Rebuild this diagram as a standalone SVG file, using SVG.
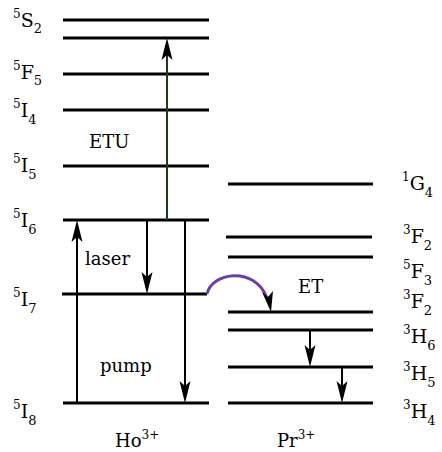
<svg xmlns="http://www.w3.org/2000/svg" width="442" height="452" viewBox="0 0 442 452">
<style>
.lvl{stroke:#000;stroke-width:3;fill:none}
.arr{stroke:#000;stroke-width:2;fill:none;marker-end:url(#ah)}
.t{font-family:"DejaVu Serif","Liberation Serif",serif;font-size:18px;fill:#000}
.lab{font-family:"DejaVu Serif","Liberation Serif",serif;font-size:19px;fill:#000}
.sm{font-size:12px}
.sb{font-size:13px}
</style>
<defs>
<marker id="ah" markerUnits="userSpaceOnUse" markerWidth="24" markerHeight="12" refX="18" refY="5.5" orient="auto" overflow="visible">
<path d="M0,0 L22,5.5 L0,11 L5,5.5 Z" fill="#000"/>
</marker>
</defs>
<rect width="442" height="452" fill="#fff"/>
<g id="ho-levels">
<line class="lvl" x1="63" y1="20" x2="209" y2="20"/>
<line class="lvl" x1="63" y1="38" x2="209" y2="38"/>
<line class="lvl" x1="63" y1="74" x2="209" y2="74"/>
<line class="lvl" x1="63" y1="110" x2="209" y2="110"/>
<line class="lvl" x1="63" y1="166" x2="209" y2="166"/>
<line class="lvl" x1="63" y1="220" x2="209" y2="220"/>
<line class="lvl" x1="62" y1="294" x2="207" y2="294"/>
<line class="lvl" x1="63" y1="403" x2="209" y2="403"/>
</g>
<g id="pr-levels">
<line class="lvl" x1="228" y1="184" x2="373" y2="184"/>
<line class="lvl" x1="226" y1="237" x2="372" y2="237"/>
<line class="lvl" x1="228" y1="257" x2="373" y2="257"/>
<line class="lvl" x1="228" y1="312" x2="373" y2="312"/>
<line class="lvl" x1="228" y1="330" x2="373" y2="330"/>
<line class="lvl" x1="228" y1="367" x2="373" y2="367"/>
<line class="lvl" x1="228" y1="403" x2="373" y2="403"/>
</g>
<g id="ho-labels">
<text class="lab" x="13" y="27"><tspan class="sm" dy="-9">5</tspan><tspan dy="9">S</tspan><tspan class="sb" dy="6">2</tspan></text>
<text class="lab" x="13" y="79"><tspan class="sm" dy="-9">5</tspan><tspan dy="9">F</tspan><tspan class="sb" dy="6">5</tspan></text>
<text class="lab" x="13" y="117"><tspan class="sm" dy="-9">5</tspan><tspan dy="9">I</tspan><tspan class="sb" dy="7">4</tspan></text>
<text class="lab" x="13" y="172"><tspan class="sm" dy="-9">5</tspan><tspan dy="9">I</tspan><tspan class="sb" dy="7">5</tspan></text>
<text class="lab" x="13" y="227"><tspan class="sm" dy="-9">5</tspan><tspan dy="9">I</tspan><tspan class="sb" dy="7">6</tspan></text>
<text class="lab" x="13" y="306"><tspan class="sm" dy="-9">5</tspan><tspan dy="9">I</tspan><tspan class="sb" dy="7">7</tspan></text>
<text class="lab" x="13" y="418"><tspan class="sm" dy="-9">5</tspan><tspan dy="9">I</tspan><tspan class="sb" dy="7">8</tspan></text>
</g>
<g id="pr-labels">
<text class="lab" x="402" y="190"><tspan class="sm" dy="-9">1</tspan><tspan dy="9">G</tspan><tspan class="sb" dy="7">4</tspan></text>
<text class="lab" x="403" y="243"><tspan class="sm" dy="-9">3</tspan><tspan dy="9">F</tspan><tspan class="sb" dy="7">2</tspan></text>
<text class="lab" x="403" y="278"><tspan class="sm" dy="-9">5</tspan><tspan dy="9">F</tspan><tspan class="sb" dy="7">3</tspan></text>
<text class="lab" x="403" y="308"><tspan class="sm" dy="-9">3</tspan><tspan dy="9">F</tspan><tspan class="sb" dy="7">2</tspan></text>
<text class="lab" x="403" y="343"><tspan class="sm" dy="-9">3</tspan><tspan dy="9">H</tspan><tspan class="sb" dy="7">6</tspan></text>
<text class="lab" x="403" y="380"><tspan class="sm" dy="-9">3</tspan><tspan dy="9">H</tspan><tspan class="sb" dy="7">5</tspan></text>
<text class="lab" x="403" y="418"><tspan class="sm" dy="-9">3</tspan><tspan dy="9">H</tspan><tspan class="sb" dy="7">4</tspan></text>
</g>
<g id="connectors">
<line class="arr" x1="167" y1="220" x2="167" y2="42" style="stroke:#1e3a1e"/>
<line class="arr" x1="77" y1="403" x2="77" y2="224"/>
<line class="arr" x1="147" y1="220" x2="147" y2="290"/>
<line class="arr" x1="185" y1="220" x2="185" y2="399"/>
<line class="arr" x1="310" y1="330" x2="310" y2="363"/>
<line class="arr" x1="342" y1="367" x2="342" y2="399"/>
<path d="M207,294 C212,272 255,266 267,298" stroke="#6b3fa0" stroke-width="3" fill="none"/>
<path d="M262,292 L271,312 L273,291 L268,297 Z" fill="#000"/>
</g>
<g id="words">
<text class="t" x="89" y="148">ETU</text>
<text class="t" x="85" y="265">laser</text>
<text class="t" x="100" y="372">pump</text>
<text class="t" x="298" y="293">ET</text>
<text class="t" x="115" y="447">Ho<tspan class="sm" dy="-8">3+</tspan></text>
<text class="t" x="277" y="447">Pr<tspan class="sm" dy="-8">3+</tspan></text>
</g>
</svg>
